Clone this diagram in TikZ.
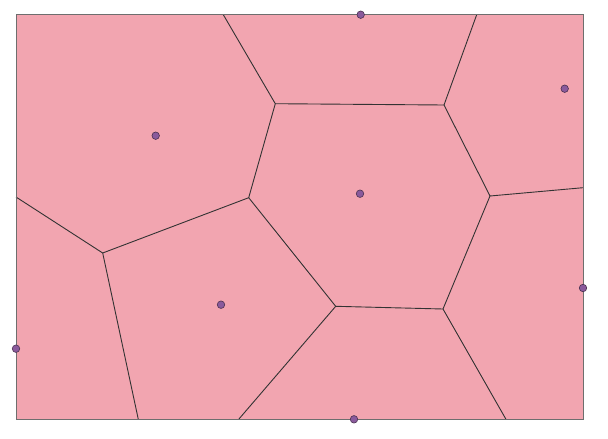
\documentclass[tikz,border=0pt]{standalone}
\definecolor{cellfill}{HTML}{F2A5B0}
\definecolor{edgecol}{HTML}{333333}
\definecolor{framecol}{HTML}{6E6E6E}
\definecolor{sitecol}{HTML}{8A5A9C}
\definecolor{siteline}{HTML}{4A3050}
\begin{document}
\begin{tikzpicture}[x=1pt,y=-1pt,
  edge/.style={draw=edgecol,line width=0.9pt},
  site/.style={circle,fill=sitecol,draw=siteline,line width=0.6pt,inner sep=0pt,minimum size=7.5pt}]
\useasboundingbox (0,0) rectangle (608,439);
\fill[cellfill] (16,14.7) rectangle (583,419.3);
% Voronoi vertices
\coordinate (v1) at (275.3,103.7);
\coordinate (v2) at (444,105);
\coordinate (v3) at (490,196);
\coordinate (v4) at (443,309);
\coordinate (v5) at (335.7,306.3);
\coordinate (v6) at (248.7,197.7);
\coordinate (v7) at (102.7,253);
% boundary ends
\coordinate (t1) at (223.3,14.7);
\coordinate (t2) at (476.7,14.7);
\coordinate (r1) at (583,187.7);
\coordinate (b1) at (506,419.3);
\coordinate (b2) at (238.7,419.3);
\coordinate (b3) at (138.3,419.3);
\coordinate (l1) at (16,197);
\draw[edge] (t1) -- (v1) -- (v2) -- (t2);
\draw[edge] (v2) -- (v3) -- (r1);
\draw[edge] (v3) -- (v4) -- (b1);
\draw[edge] (v4) -- (v5) -- (b2);
\draw[edge] (v5) -- (v6) -- (v1);
\draw[edge] (v6) -- (v7) -- (l1);
\draw[edge] (v7) -- (b3);
\draw[draw=framecol,line width=0.9pt] (16,14.7) rectangle (583,419.3);
% sites
\node[site] (s1) at (360.7,14.7) {};
\node[site] (s2) at (564.7,88.7) {};
\node[site] (s3) at (155.7,135.7) {};
\node[site] (s4) at (360,193.7) {};
\node[site] (s5) at (221,304.7) {};
\node[site] (s6) at (16,348.7) {};
\node[site] (s7) at (583,288) {};
\node[site] (s8) at (354,419.3) {};
\end{tikzpicture}
\end{document}
